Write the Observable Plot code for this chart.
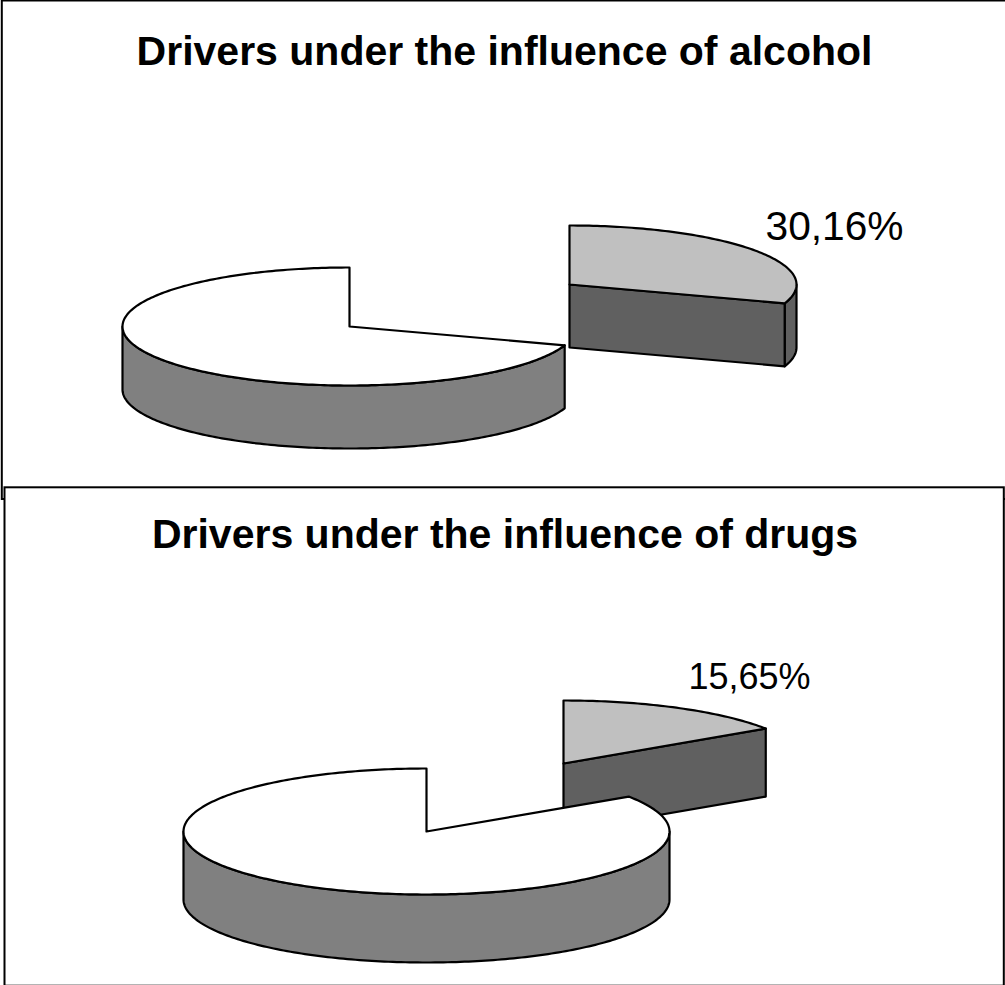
<!DOCTYPE html>
<html>
<head>
<meta charset="utf-8">
<script src="https://cdn.jsdelivr.net/npm/d3@7"></script>
<script src="https://cdn.jsdelivr.net/npm/@observablehq/plot@0.6"></script>
<style>
  html, body { margin: 0; padding: 0; background: #fff; }
  svg { display: block; }
</style>
</head>
<body>
<div id="chart"></div>
<script>
// Share of drivers testing positive, one exploded slice per panel.
const panelTitles = ["Drivers under the influence of alcohol", "Drivers under the influence of drugs"];
const positiveShares = [30.16, 15.65];

// Panel layout: pie centre, ellipse radii, wall depth, slice offset, frame, type sizes.
const centreX = [349, 426];
const centreY = [326, 831];
const radiusX = [227, 243];
const radiusY = [59, 63];
const wallDepth = [63, 68];
const sliceShiftX = [220, 137];
const sliceShiftY = [-42, -68];
const frameLeft = [1.8, 4.5];
const frameTop = [0.5, 487.3];
const frameRight = [1007, 1003.8];
const frameBottom = [499, 985.7];
const titleX = [504, 504.5];
const titleY = [64, 547];
const titleSize = [41, 41];
const labelX = [834, 749];
const labelY = [239, 688];
const labelSize = [40.7, 36];

const topGrey = "#c0c0c0", darkGrey = "#606060", wallGrey = "#808080";
const toRadians = (d) => (d * Math.PI) / 180;

// Points along the elliptical rim between two angles, in degrees clockwise from east.
function rim(cx, cy, rx, ry, from, to, drop = 0) {
  const steps = Math.max(2, Math.ceil(Math.abs(to - from)));
  return d3.range(steps + 1).map((i) => {
    const a = toRadians(from + ((to - from) * i) / steps);
    return [cx + rx * Math.cos(a), cy + ry * Math.sin(a) + drop];
  });
}

const parts = [];
function addPart(id, fill, points) {
  points.forEach(([x, y]) => parts.push({id, fill, x, y}));
}

positiveShares.forEach((share, i) => {
  const cx = centreX[i], cy = centreY[i], rx = radiusX[i], ry = radiusY[i], depth = wallDepth[i];
  const start = -90;
  const end = start + (share / 100) * 360;
  const sx = cx + sliceShiftX[i], sy = cy + sliceShiftY[i];

  // Exploded slice: outer wall where it faces the viewer, cut face, then top.
  if (end > 0) {
    const outerTop = rim(sx, sy, rx, ry, 0, end);
    addPart(`wall-${i}`, darkGrey, [
      ...outerTop,
      ...rim(sx, sy, rx, ry, end, 0, depth),
      outerTop[0]
    ]);
  }
  const [ex, ey] = rim(sx, sy, rx, ry, end, end)[0];
  addPart(`cut-${i}`, darkGrey, [[sx, sy], [ex, ey], [ex, ey + depth], [sx, sy + depth], [sx, sy]]);
  addPart(`slice-${i}`, topGrey, [[sx, sy], ...rim(sx, sy, rx, ry, start, end), [sx, sy]]);

  // Remaining share: front wall from the cut round to the far left, then top.
  const wallStart = Math.max(end, 0);
  const upper = rim(cx, cy, rx, ry, wallStart, 180);
  const lower = rim(cx, cy, rx, ry, 180, wallStart, depth);
  addPart(`rest-wall-${i}`, wallGrey, [...upper, ...lower, upper[0]]);
  addPart(`rest-${i}`, "#ffffff", [[cx, cy], ...rim(cx, cy, rx, ry, end, 270), [cx, cy]]);
});

const panels = d3.range(panelTitles.length).map((i) => ({
  title: panelTitles[i],
  label: `${positiveShares[i].toFixed(2).replace(".", ",")}%`,
  x1: frameLeft[i], y1: frameTop[i], x2: frameRight[i], y2: frameBottom[i],
  tx: titleX[i], ty: titleY[i], ts: titleSize[i],
  lx: labelX[i], ly: labelY[i], ls: labelSize[i]
}));

const partIds = [...new Set(parts.map((d) => d.id))];
const chart = Plot.plot({
  width: 1005,
  height: 985,
  margin: 0,
  x: {domain: [0, 1005], range: [0, 1005], axis: null},
  y: {domain: [0, 985], range: [0, 985], axis: null},
  style: {fontFamily: "'Liberation Sans', Arial, sans-serif", background: "#fff"},
  marks: [
    Plot.rect(panels, {x1: "x1", y1: "y1", x2: "x2", y2: "y2", fill: "#fff", stroke: "#000", strokeWidth: 2, clip: false}),
    ...partIds.map((id) =>
      Plot.line(parts.filter((d) => d.id === id), {
        x: "x",
        y: "y",
        fill: parts.find((d) => d.id === id).fill,
        stroke: "#000",
        strokeWidth: 2.2,
        strokeLinejoin: "round"
      })
    ),
    ...panels.flatMap((p) => [
      Plot.text([p], {x: "tx", y: "ty", text: "title", fontSize: p.ts, fontWeight: "bold", fill: "#000", lineAnchor: "bottom", textAnchor: "middle"}),
      Plot.text([p], {x: "lx", y: "ly", text: "label", fontSize: p.ls, fill: "#000", lineAnchor: "bottom", textAnchor: "middle"})
    ])
  ]
});
document.getElementById("chart").append(chart);
</script>
</body>
</html>
